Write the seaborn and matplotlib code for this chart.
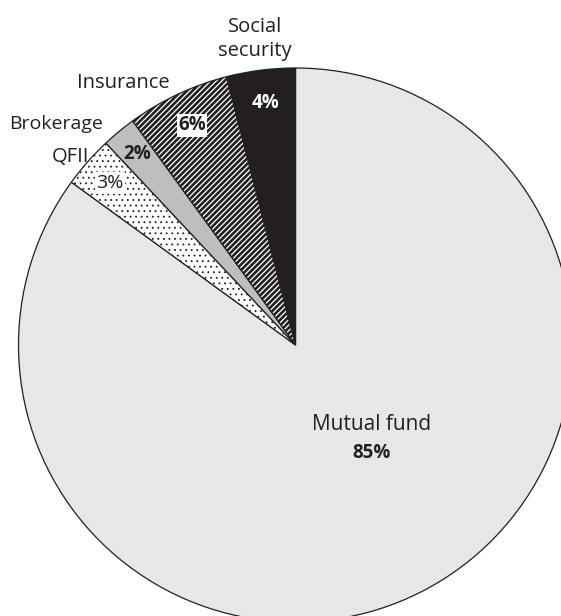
import matplotlib
matplotlib.use("Agg")
import matplotlib.pyplot as plt
import seaborn as sns

# Ownership shares by investor type (percent)
categories = ["Mutual fund", "QFII", "Brokerage", "Insurance", "Social security"]
shares = [85, 3, 2, 6, 4]
pct_labels = ["85%", "3%", "2%", "6%", "4%"]

sns.set_theme(style="white")
plt.rcParams["font.family"] = ["Open Sans", "DejaVu Sans"]
plt.rcParams["hatch.linewidth"] = 1.8

INK = "#231f20"
fills = ["#e6e7e8", "white", "#bcbec0", "white", INK]
hatches = [None, "...", None, "//////", None]
hatch_lw = [None, 0.6, None, 1.9, None]

W, H = 561, 616
fig = plt.figure(figsize=(W / 100, H / 100), dpi=100)
ax = fig.add_axes([0, 0, 1, 1])

wedges, _ = ax.pie(
    shares,
    colors=fills,
    startangle=90,
    counterclock=False,
    wedgeprops=dict(edgecolor=INK, linewidth=0.9),
)
for w, h, lw in zip(wedges, hatches, hatch_lw):
    if h:
        w.set_hatch(h)
        if hasattr(w, "set_hatch_linewidth"):
            w.set_hatch_linewidth(lw)

# pixel geometry of the pie
cx, cy, R = 295.5, 345.0, 277.0
ax.set_xlim(-cx / R, (W - cx) / R)
ax.set_ylim(-(H - cy) / R, cy / R)
ax.set_aspect("equal")
ax.axis("off")


def at(px, py):
    return (px - cx) / R, (cy - py) / R


fs = 14.5
box = dict(boxstyle="square,pad=0.08", fc="white", ec="none")
# category names
ax.text(*at(255, 39), "Social\nsecurity", ha="center", va="center",
        fontsize=fs, color=INK, linespacing=1.3)
ax.text(*at(123, 83), "Insurance", ha="center", va="center", fontsize=fs, color=INK)
ax.text(*at(56, 124), "Brokerage", ha="center", va="center", fontsize=fs - 0.5, color=INK)
ax.text(*at(70, 157), "QFII", ha="center", va="center", fontsize=fs, color=INK)
ax.text(*at(372, 425), "Mutual fund", ha="center", va="center", fontsize=fs + 0.5,
        color=INK)

# percentage labels
ax.text(*at(372, 453), pct_labels[0], ha="center", va="center", fontsize=fs - 1,
        color=INK, fontweight="bold")
ax.text(*at(110, 183), pct_labels[1], ha="center", va="center", fontsize=fs - 0.5,
        color=INK, bbox=box)
ax.text(*at(137, 154), pct_labels[2], ha="center", va="center", fontsize=fs - 1,
        color=INK, fontweight="bold")
ax.text(*at(192, 125), pct_labels[3], ha="center", va="center", fontsize=fs - 1,
        color=INK, fontweight="bold", bbox=box)
ax.text(*at(265, 103), pct_labels[4], ha="center", va="center", fontsize=fs - 1,
        color="white", fontweight="bold")

fig.savefig("out.png", dpi=100)
